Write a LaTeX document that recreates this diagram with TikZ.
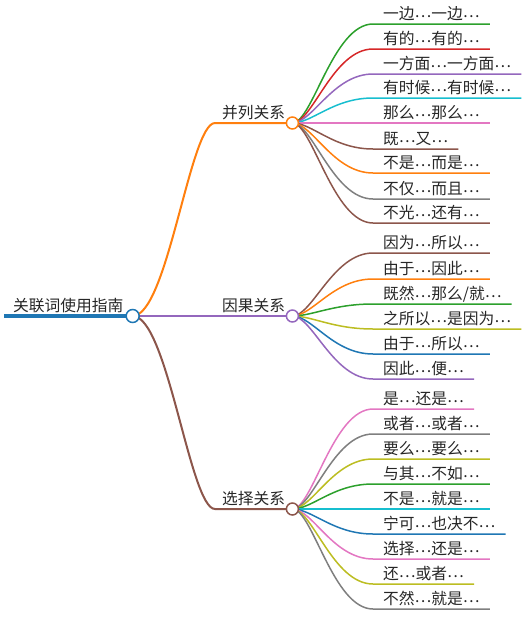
\documentclass[tikz,border=0pt]{standalone}
\usepackage{fontspec}
\setmainfont{Noto Sans CJK SC}
\newcommand\el{\raisebox{0.1em}{…}}
\usepackage{tikz}
\definecolor{cblue}{HTML}{1F77B4}
\definecolor{corange}{HTML}{FF7F0E}
\definecolor{cgreen}{HTML}{2CA02C}
\definecolor{cred}{HTML}{D62728}
\definecolor{cpurple}{HTML}{9467BD}
\definecolor{cbrown}{HTML}{8C564B}
\definecolor{cpink}{HTML}{E377C2}
\definecolor{cgray}{HTML}{7F7F7F}
\definecolor{colive}{HTML}{BCBD22}
\definecolor{ccyan}{HTML}{17BECF}
\tikzstyle{topic} = [anchor=south west, inner xsep=9pt, inner ysep=4pt, text height=11pt, text depth=0pt, font=\fontsize{15.75pt}{18pt}\selectfont, text=black!85]
\tikzstyle{rel} = [topic, inner xsep=7pt]
\tikzstyle{leaf} = [topic, inner xsep=10pt, inner ysep=4.5pt]
\tikzstyle{trunk} = [line width=4pt]
\tikzstyle{branch} = [line width=2pt]
\tikzstyle{twig} = [line width=1.5pt]
\tikzstyle{knob} = [line width=1.5pt, fill=white]

\begin{document}
\begin{tikzpicture}[x=1pt, y=-1pt]
    \useasboundingbox (0,0) rectangle (526,629);

    \node (root) [topic] at (4,316) {关联词使用指南};
    \node (rel1) [rel] at (215,123) {并列关系};
    \node (rel2) [rel] at (215,316) {因果关系};
    \node (rel3) [rel] at (215,509) {选择关系};

    % 并列关系
    \node (par1) [leaf] at (373,24) {一边\el 一边\el};
    \node (par2) [leaf] at (373,49) {有的\el 有的\el};
    \node (par3) [leaf] at (373,74) {一方面\el 一方面\el};
    \node (par4) [leaf] at (373,98) {有时候\el 有时候\el};
    \node (par5) [leaf] at (373,123) {那么\el 那么\el};
    \node (par6) [leaf] at (373,149) {既\el 又\el};
    \node (par7) [leaf] at (373,173) {不是\el 而是\el};
    \node (par8) [leaf] at (373,199) {不仅\el 而且\el};
    \node (par9) [leaf] at (373,223) {不光\el 还有\el};

    % 因果关系
    \node (cause1) [leaf] at (373,253) {因为\el 所以\el};
    \node (cause2) [leaf] at (373,279) {由于\el 因此\el};
    \node (cause3) [leaf] at (373,304) {既然\el 那么/就\el};
    \node (cause4) [leaf] at (373,329) {之所以\el 是因为\el};
    \node (cause5) [leaf] at (373,354) {由于\el 所以\el};
    \node (cause6) [leaf] at (373,379) {因此\el 便\el};

    % 选择关系
    \node (choice1) [leaf] at (373,409) {是\el 还是\el};
    \node (choice2) [leaf] at (373,434) {或者\el 或者\el};
    \node (choice3) [leaf] at (373,459) {要么\el 要么\el};
    \node (choice4) [leaf] at (373,484) {与其\el 不如\el};
    \node (choice5) [leaf] at (373,509) {不是\el 就是\el};
    \node (choice6) [leaf] at (373,534) {宁可\el 也决不\el};
    \node (choice7) [leaf] at (373,559) {选择\el 还是\el};
    \node (choice8) [leaf] at (373,584) {还\el 或者\el};
    \node (choice9) [leaf] at (373,609) {不然\el 就是\el};

    \draw[trunk, cblue] (root.south west) -- (root.south east);
    \draw[branch, corange] (root.south east) .. controls +(35,0) and +(-25,0) .. (rel1.south west) -- (rel1.south east);
    \draw[branch, cpurple] (root.south east) -- (rel2.south east);
    \draw[branch, cbrown] (root.south east) .. controls +(35,0) and +(-25,0) .. (rel3.south west) -- (rel3.south east);

    \draw[twig, cgreen] (rel1.south east) .. controls +(20,0) and +(-40,0) .. (par1.south west) -- (par1.south east);
    \draw[twig, cred] (rel1.south east) .. controls +(20,0) and +(-40,0) .. (par2.south west) -- (par2.south east);
    \draw[twig, cpurple] (rel1.south east) .. controls +(20,0) and +(-40,0) .. (par3.south west) -- (par3.south east);
    \draw[twig, ccyan] (rel1.south east) .. controls +(20,0) and +(-40,0) .. (par4.south west) -- (par4.south east);
    \draw[twig, cpink] (rel1.south east) -- (par5.south east);
    \draw[twig, cbrown] (rel1.south east) .. controls +(20,0) and +(-40,0) .. (par6.south west) -- (par6.south east);
    \draw[twig, corange] (rel1.south east) .. controls +(20,0) and +(-40,0) .. (par7.south west) -- (par7.south east);
    \draw[twig, cgray] (rel1.south east) .. controls +(20,0) and +(-40,0) .. (par8.south west) -- (par8.south east);
    \draw[twig, cbrown] (rel1.south east) .. controls +(20,0) and +(-40,0) .. (par9.south west) -- (par9.south east);

    \draw[twig, cbrown] (rel2.south east) .. controls +(20,0) and +(-40,0) .. (cause1.south west) -- (cause1.south east);
    \draw[twig, corange] (rel2.south east) .. controls +(20,0) and +(-40,0) .. (cause2.south west) -- (cause2.south east);
    \draw[twig, cgreen] (rel2.south east) .. controls +(20,0) and +(-40,0) .. (cause3.south west) -- (cause3.south east);
    \draw[twig, colive] (rel2.south east) .. controls +(20,0) and +(-40,0) .. (cause4.south west) -- (cause4.south east);
    \draw[twig, cblue] (rel2.south east) .. controls +(20,0) and +(-40,0) .. (cause5.south west) -- (cause5.south east);
    \draw[twig, cpurple] (rel2.south east) .. controls +(20,0) and +(-40,0) .. (cause6.south west) -- (cause6.south east);

    \draw[twig, cpink] (rel3.south east) .. controls +(20,0) and +(-40,0) .. (choice1.south west) -- (choice1.south east);
    \draw[twig, cgray] (rel3.south east) .. controls +(20,0) and +(-40,0) .. (choice2.south west) -- (choice2.south east);
    \draw[twig, colive] (rel3.south east) .. controls +(20,0) and +(-40,0) .. (choice3.south west) -- (choice3.south east);
    \draw[twig, cgreen] (rel3.south east) .. controls +(20,0) and +(-40,0) .. (choice4.south west) -- (choice4.south east);
    \draw[twig, ccyan] (rel3.south east) -- (choice5.south east);
    \draw[twig, cblue] (rel3.south east) .. controls +(20,0) and +(-40,0) .. (choice6.south west) -- (choice6.south east);
    \draw[twig, cpink] (rel3.south east) .. controls +(20,0) and +(-40,0) .. (choice7.south west) -- (choice7.south east);
    \draw[twig, colive] (rel3.south east) .. controls +(20,0) and +(-40,0) .. (choice8.south west) -- (choice8.south east);
    \draw[twig, cgray] (rel3.south east) .. controls +(20,0) and +(-40,0) .. (choice9.south west) -- (choice9.south east);

    \draw[knob, draw=cblue] (root.south east) circle (6.5pt);
    \draw[knob, draw=corange] (rel1.south east) circle (6pt);
    \draw[knob, draw=cpurple] (rel2.south east) circle (6pt);
    \draw[knob, draw=cbrown] (rel3.south east) circle (6pt);

\end{tikzpicture}
\end{document}
